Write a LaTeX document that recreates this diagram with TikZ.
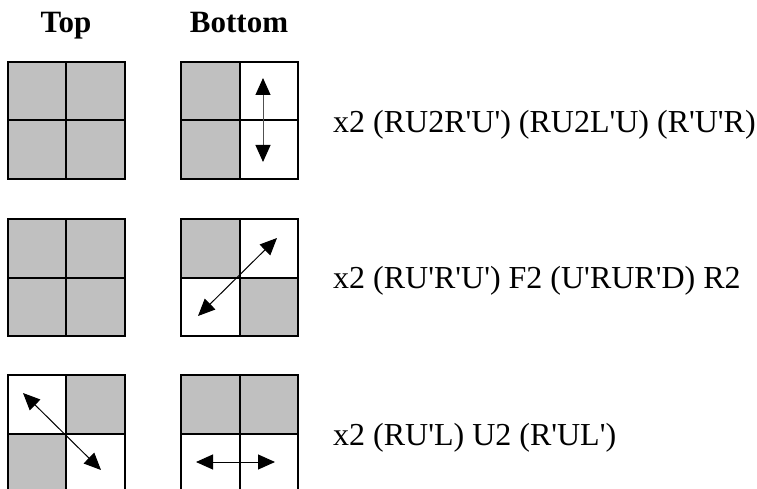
\documentclass[tikz,border=0pt]{standalone}
\usepackage{fontspec}
\setmainfont{Liberation Serif}
\usetikzlibrary{arrows.meta}
\definecolor{facegray}{RGB}{192,192,192}
\definecolor{shaftgray}{RGB}{80,80,80}
\newcommand\ap{\textquotesingle}
% Four-cell face: #1 name, #2/#3 top-left corner, #4..#7 fills (TL, TR, BL, BR)
\newcommand\facegrid[7]{%
  \node[cell,fill=#4,anchor=north west] (#1-tl) at (#2,#3) {};
  \node[cell,fill=#5,anchor=north west] (#1-tr) at (#2+58.5,#3) {};
  \node[cell,fill=#6,anchor=north west] (#1-bl) at (#2,#3+58.5) {};
  \node[cell,fill=#7,anchor=north west] (#1-br) at (#2+58.5,#3+58.5) {};
}
\tikzset{
  cell/.style={draw=black,line width=2pt,minimum size=58.5pt,inner sep=0pt,outer sep=0pt},
  head/.style={anchor=base,inner sep=0pt,font=\bfseries\fontsize{31}{36}\selectfont},
  alg/.style={anchor=base west,inner sep=0pt,font=\fontsize{32}{38}\selectfont},
  exchange/.style={line width=1pt,
    {Triangle[length=17pt,width=15pt,color=black]}-{Triangle[length=17pt,width=15pt,color=black]}},
}
\begin{document}
\begin{tikzpicture}[x=1pt,y=-1pt]
  \useasboundingbox (0,0) rectangle (757,489);
  \clip (0,0) rectangle (757,489);

  % column headings
  \node[head] (top) at (66,33) {Top};
  \node[head] (bottom) at (239,33) {Bottom};

  % row 1
  \facegrid{t1}{7.5}{62}{facegray}{facegray}{facegray}{facegray}
  \facegrid{b1}{181}{62}{facegray}{white}{facegray}{white}
  \coordinate (a1s) at (263,78);
  \coordinate (a1e) at (263,162);
  \draw[exchange,draw=shaftgray] (a1s) -- (a1e);
  \node[alg] (alg1) at (333,133) {x2 (RU2R\ap U\ap) (RU2L\ap U) (R\ap U\ap R)};

  % row 2
  \facegrid{t2}{7.5}{219}{facegray}{facegray}{facegray}{facegray}
  \facegrid{b2}{181}{219}{facegray}{white}{white}{facegray}
  \coordinate (a2s) at (198,316);
  \coordinate (a2e) at (277,238);
  \draw[exchange] (a2s) -- (a2e);
  \node[alg] (alg2) at (333,288) {x2 (RU\ap R\ap U\ap) F2 (U\ap RUR\ap D) R2};

  % row 3
  \facegrid{t3}{7.5}{375}{white}{facegray}{facegray}{white}
  \facegrid{b3}{181}{375}{facegray}{facegray}{white}{white}
  \coordinate (a3s) at (23,393);
  \coordinate (a3e) at (101,470);
  \draw[exchange] (a3s) -- (a3e);
  \coordinate (a4s) at (196,462);
  \coordinate (a4e) at (275,462);
  \draw[exchange] (a4s) -- (a4e);
  \node[alg] (alg3) at (333,445) {x2 (RU\ap L) U2 (R\ap UL\ap)};
\end{tikzpicture}
\end{document}
